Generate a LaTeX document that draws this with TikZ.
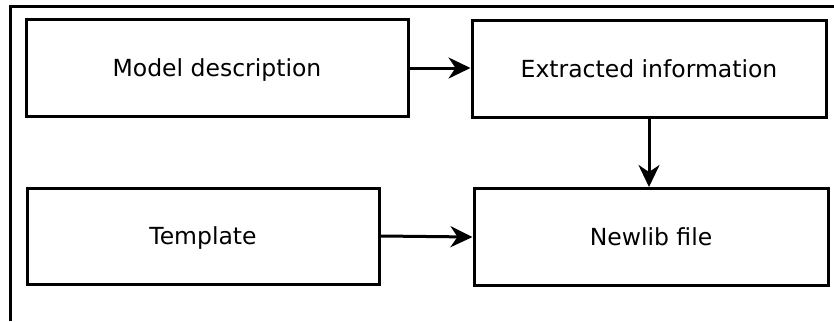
\documentclass[tikz,border=0pt]{standalone}
\usepackage{fontspec}
\setmainfont{DejaVu Sans}
\usetikzlibrary{arrows.meta}

\begin{document}
\begin{tikzpicture}[x = 1pt, y = -1pt, >= {Stealth[length = 22pt, width = 21pt, inset = 7pt]},
    stage/.style = {draw = black, line width = 3pt, minimum height = 96pt, inner sep = 0pt,
        text height = 18pt, text depth = 2pt, font = \fontsize{23.5}{28}\selectfont},
    link/.style = {line width = 3pt, ->}]
    \useasboundingbox (0, 0) rectangle (834, 321);

    % outer frame, only top and left edge
    \draw [line width = 3pt] (834, 7) -- (10, 7) -- (10, 321);

    \node [stage, minimum width = 382pt] (model) at (217, 68) {Model description};
    \node [stage, minimum width = 354pt] (extract) at (649, 69) {Extracted information};
    \node [stage, minimum width = 352pt] (templ) at (203, 236) {Template};
    \node [stage, minimum width = 354pt, minimum height = 97pt] (newlib) at (651, 237) {Newlib file};

    %%%%%%%%%%%%%%%%%%%%
    \draw [link] (model.east) -- (extract.west |- model.east);
    \draw [link] (extract.south) -- (extract.south |- newlib.north);
    \draw [link] (templ.east) -- (newlib.west);
\end{tikzpicture}
\end{document}
